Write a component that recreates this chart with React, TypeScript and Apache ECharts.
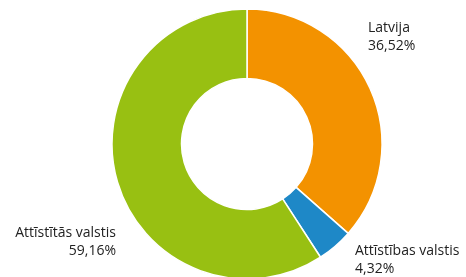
import React, { useEffect, useRef } from "react";
import * as echarts from "echarts";

const categories = ["Latvija", "Attīstības valstis", "Attīstītās valstis"];
const values = [36.52, 4.32, 59.16];
const colors = ["#F39200", "#1E88C7", "#98C012"];

const labelPos = [
  { x: 368, y: 17, align: "left" },
  { x: 355, y: 240, align: "left" },
  { x: 116, y: 222, align: "right" },
];

export default function App() {
  const ref = useRef<HTMLDivElement>(null);
  useEffect(() => {
    const chart = echarts.init(ref.current!, null, { renderer: "svg" });
    chart.setOption({
      animation: false,
      series: [
        {
          type: "pie",
          center: [247, 144],
          radius: [65.5, 135],
          startAngle: 90,
          clockwise: true,
          data: categories.map((c, i) => ({
            name: c,
            value: values[i],
            itemStyle: { color: colors[i] },
          })),
          itemStyle: { borderColor: "#fff", borderWidth: 1.5 },
          label: {
            show: true,
            formatter: (p: any) =>
              p.name + "\n" + p.value.toFixed(2).replace(".", ",") + "%",
            fontFamily: "Open Sans",
            fontSize: 14,
            lineHeight: 18,
            color: "#222",
            overflow: "none",
            width: 200,
          },
          labelLine: { show: false },
          labelLayout: (params: any) => {
            const lp = labelPos[params.dataIndex];
            return { x: lp.x, y: lp.y, align: lp.align, verticalAlign: "top" };
          },
          emphasis: { disabled: true },
        },
      ],
    });
    return () => chart.dispose();
  }, []);
  return (
    <div
      ref={ref}
      style={{ position: "fixed", left: 0, top: 0, width: 466, height: 277 }}
    />
  );
}
